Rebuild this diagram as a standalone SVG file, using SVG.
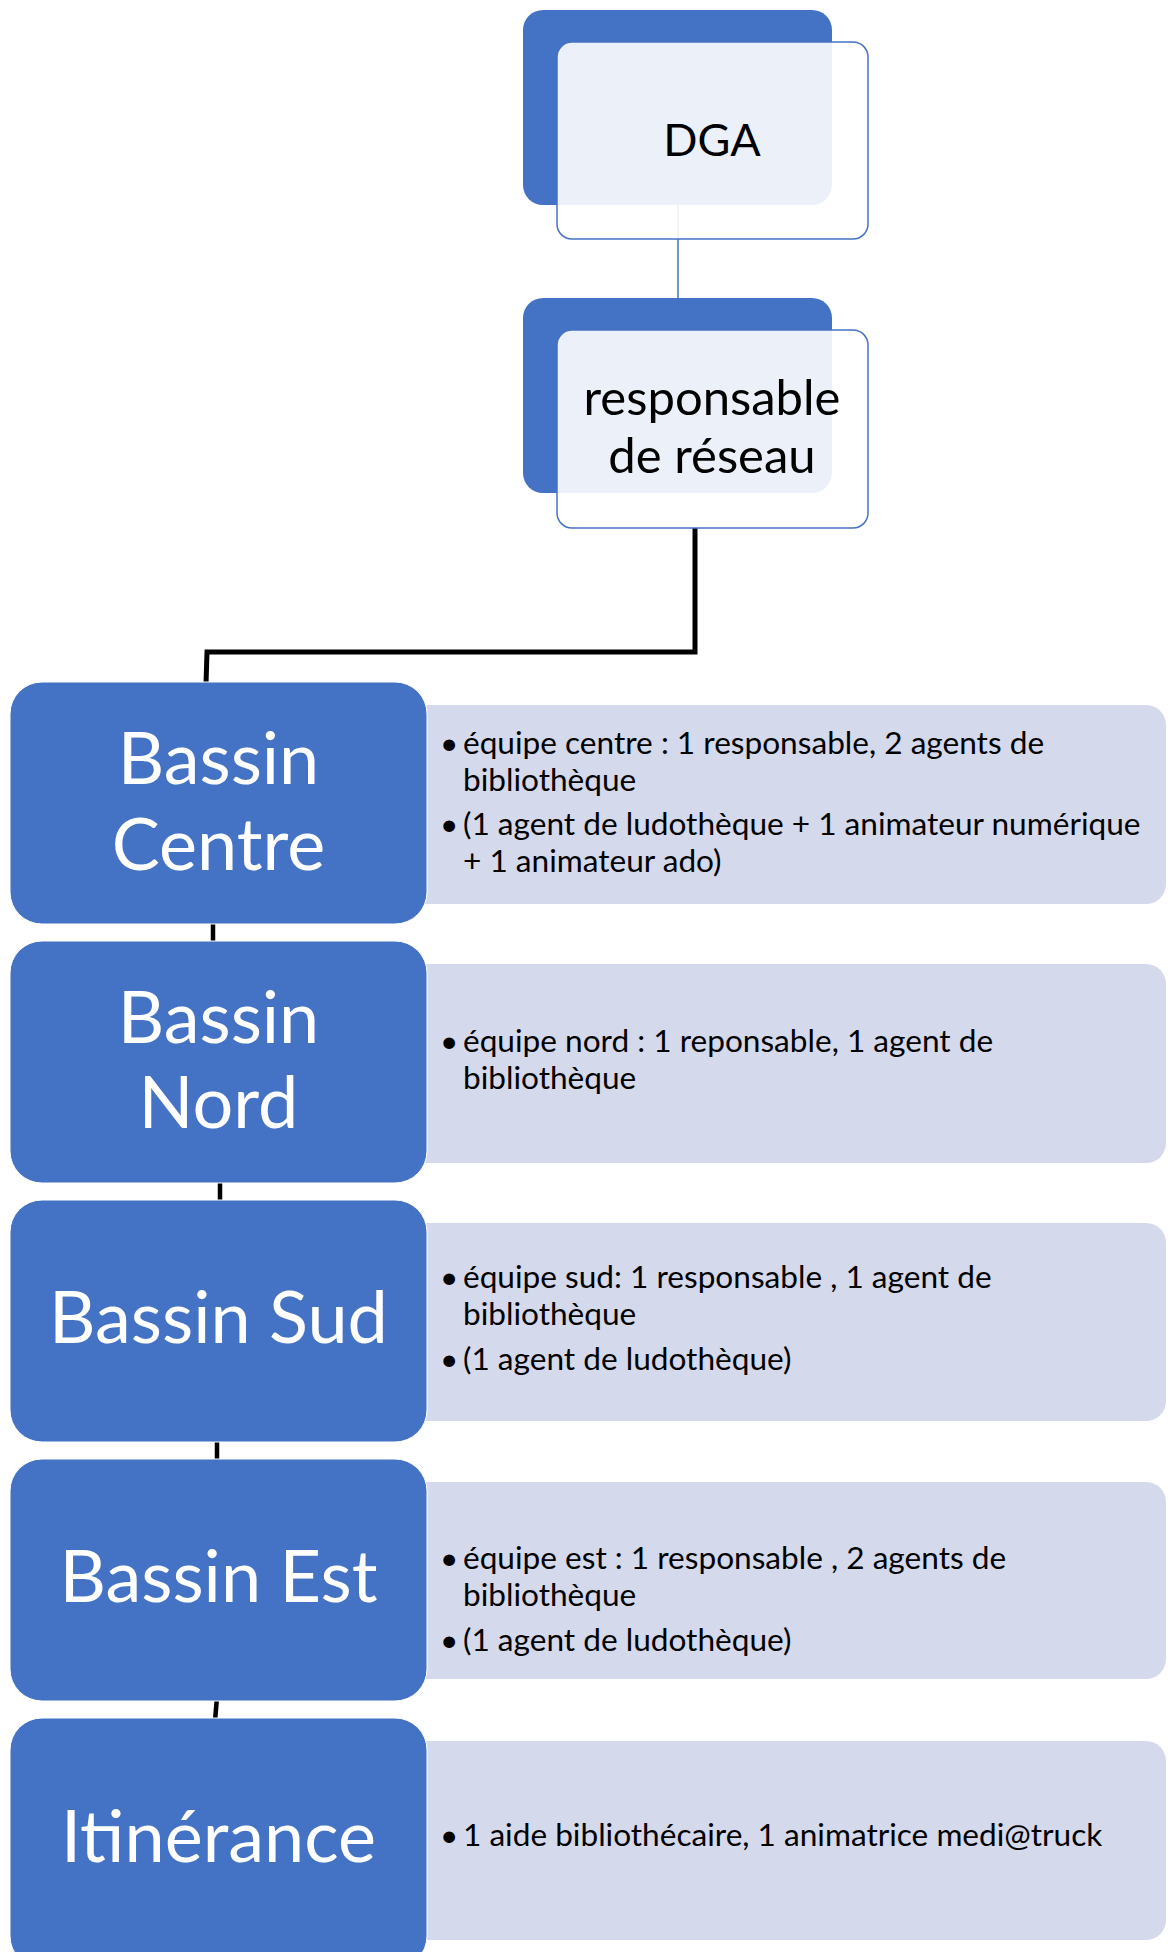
<svg xmlns="http://www.w3.org/2000/svg" width="1168" height="1952" viewBox="0 0 1168 1952">
<style>
.bg{fill:#ffffff}
.blue{fill:#4472C4}
.frame{fill:#ffffff;fill-opacity:0.9;stroke:#4472C4;stroke-width:1.5}
.box{fill:#4472C4;stroke:#ffffff;stroke-width:1}
.light{fill:#D5D9EC}
.thin{stroke:#4472C4;stroke-width:1.5;fill:none}
.thick{stroke:#000000;stroke-width:5;fill:none}
.stub{stroke:#000000;stroke-width:4.5;fill:none}
.ttop{font-family:Lato,"Liberation Sans",sans-serif;font-size:49px;fill:#000000;text-anchor:middle}
.tdga{font-family:Lato,"Liberation Sans",sans-serif;font-size:45px;fill:#000000;text-anchor:middle}
.tbox{font-family:Lato,"Liberation Sans",sans-serif;font-size:72px;fill:#ffffff;text-anchor:middle}
.tlist{font-family:Lato,"Liberation Sans",sans-serif;font-size:31.6px;fill:#000000}
</style>
<rect class="bg" x="0" y="0" width="1168" height="1952"/>

<g id="connectors">
  <line class="thin" x1="678" y1="205" x2="678" y2="300"/>
  <path class="thick" d="M695,528 V652 H207 L206,684"/>
  <line class="stub" x1="213" y1="920" x2="213" y2="944"/>
  <line class="stub" x1="220" y1="1180" x2="220" y2="1203"/>
  <line class="stub" x1="217" y1="1438" x2="217" y2="1462"/>
  <line class="stub" x1="217" y1="1697" x2="215" y2="1721"/>
</g>

<g id="node-dga">
  <rect class="blue" x="523" y="10" width="309" height="195" rx="20"/>
  <rect class="frame" x="557" y="42" width="311" height="197" rx="15"/>
  <text class="tdga" x="712" y="156">DGA</text>
</g>

<g id="node-responsable">
  <rect class="blue" x="523" y="298" width="309" height="195" rx="20"/>
  <rect class="frame" x="557" y="330" width="311" height="198" rx="15"/>
  <text class="ttop" x="712" y="415">responsable</text>
  <text class="ttop" x="712" y="473">de réseau</text>
</g>

<g id="node-centre">
  <rect class="light" x="400" y="705" width="766" height="199" rx="20"/>
  <rect class="box" x="10" y="682" width="417" height="242" rx="32"/>
  <text class="tbox" x="218.5" y="784">Bassin</text>
  <text class="tbox" x="218.5" y="870">Centre</text>
  <text class="tlist" x="440" y="754">•</text>
  <text class="tlist" x="463" y="754">équipe centre : 1 responsable, 2 agents de</text>
  <text class="tlist" x="463" y="791">bibliothèque</text>
  <text class="tlist" x="440" y="835">•</text>
  <text class="tlist" x="463" y="835">(1 agent de ludothèque + 1 animateur numérique</text>
  <text class="tlist" x="463" y="872">+ 1 animateur ado)</text>
</g>

<g id="node-nord">
  <rect class="light" x="400" y="964" width="766" height="199" rx="20"/>
  <rect class="box" x="10" y="941" width="417" height="242" rx="32"/>
  <text class="tbox" x="218.5" y="1043">Bassin</text>
  <text class="tbox" x="218.5" y="1128">Nord</text>
  <text class="tlist" x="440" y="1052">•</text>
  <text class="tlist" x="463" y="1052">équipe nord : 1 reponsable, 1 agent de</text>
  <text class="tlist" x="463" y="1089">bibliothèque</text>
</g>

<g id="node-sud">
  <rect class="light" x="400" y="1223" width="766" height="198" rx="20"/>
  <rect class="box" x="10" y="1200" width="417" height="242" rx="32"/>
  <text class="tbox" x="218.5" y="1343">Bassin Sud</text>
  <text class="tlist" x="440" y="1288">•</text>
  <text class="tlist" x="463" y="1288">équipe sud: 1 responsable , 1 agent de</text>
  <text class="tlist" x="463" y="1325">bibliothèque</text>
  <text class="tlist" x="440" y="1370">•</text>
  <text class="tlist" x="463" y="1370">(1 agent de ludothèque)</text>
</g>

<g id="node-est">
  <rect class="light" x="400" y="1482" width="766" height="197" rx="20"/>
  <rect class="box" x="10" y="1459" width="417" height="242" rx="32"/>
  <text class="tbox" x="218.5" y="1602">Bassin Est</text>
  <text class="tlist" x="440" y="1569">•</text>
  <text class="tlist" x="463" y="1569">équipe est : 1 responsable , 2 agents de</text>
  <text class="tlist" x="463" y="1606">bibliothèque</text>
  <text class="tlist" x="440" y="1651">•</text>
  <text class="tlist" x="463" y="1651">(1 agent de ludothèque)</text>
</g>

<g id="node-itinerance">
  <rect class="light" x="400" y="1741" width="766" height="199" rx="20"/>
  <rect class="box" x="10" y="1718" width="417" height="250" rx="32"/>
  <text class="tbox" x="218.5" y="1862">Itinérance</text>
  <text class="tlist" x="440" y="1846">•</text>
  <text class="tlist" x="463" y="1846">1 aide bibliothécaire, 1 animatrice medi@truck</text>
</g>
</svg>
